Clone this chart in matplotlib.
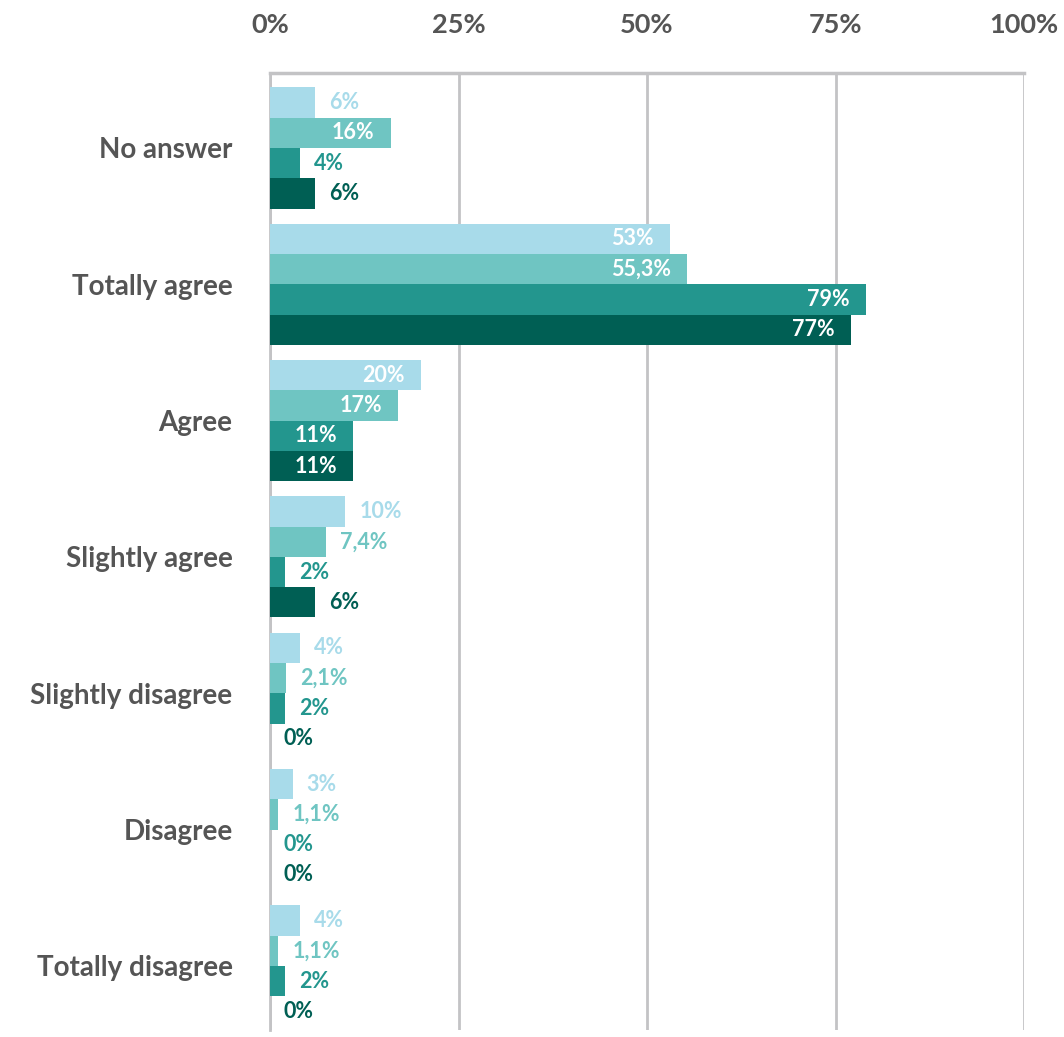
import numpy as np
import matplotlib.pyplot as plt

categories = ["No answer", "Totally agree", "Agree", "Slightly agree",
              "Slightly disagree", "Disagree", "Totally disagree"]
series_a = [6, 53, 20, 10, 4, 3, 4]
series_b = [16, 55.3, 17, 7.4, 2.1, 1.1, 1.1]
series_c = [4, 79, 11, 2, 2, 0, 2]
series_d = [6, 77, 11, 6, 0, 0, 0]
tick_values = [0, 25, 50, 75, 100]
tick_labels = ["0%", "25%", "50%", "75%", "100%"]

colors = ["#a8dbea", "#6fc5c2", "#23968e", "#005f54"]
all_series = [series_a, series_b, series_c, series_d]

plt.rcParams['font.family'] = ['Lato', 'DejaVu Sans']

fig = plt.figure(figsize=(10.64, 10.37), dpi=100)
ax = fig.add_axes([0.2538, 0.0068, 0.7086, 0.9228])

bar_h = 0.222
y = np.arange(len(categories))
for i, (vals, col) in enumerate(zip(all_series, colors)):
    pos = y - 1.5 * bar_h + i * bar_h
    ax.barh(pos, vals, height=bar_h, color=col, zorder=3)
    for p, v in zip(pos, vals):
        txt = f"{v:g}".replace(".", ",") + "%"
        if v > 10.5:
            ax.annotate(txt, (v, p), xytext=(-11.5, 0), textcoords="offset points",
                        ha="right", va="center", color="white",
                        fontsize=15.5, fontweight="bold", zorder=4)
        else:
            ax.annotate(txt, (v, p), xytext=(10, 0), textcoords="offset points",
                        ha="left", va="center", color=col,
                        fontsize=15.5, fontweight="bold", zorder=4)

ax.set_xlim(0, 100)
ax.set_ylim(6.47, -0.55)
ax.set_yticks(y)
ax.set_yticklabels(categories, fontsize=20, fontweight="bold", color="#555555")
ax.set_xticks(tick_values)
ax.set_xticklabels(tick_labels, fontsize=19.5, fontweight="bold", color="#555555")
ax.xaxis.tick_top()
ax.tick_params(axis="x", length=0, pad=26)
ax.tick_params(axis="y", length=0, pad=27)
ax.grid(axis="x", color="#c3c3c5", linewidth=2, zorder=0)
for s in ["right", "bottom"]:
    ax.spines[s].set_visible(False)
ax.spines["top"].set_color("#c3c3c5")
ax.spines["top"].set_linewidth(2.5)
ax.spines["left"].set_color("#c3c3c5")
ax.spines["left"].set_linewidth(2)

fig.savefig("out.png", dpi=100)
